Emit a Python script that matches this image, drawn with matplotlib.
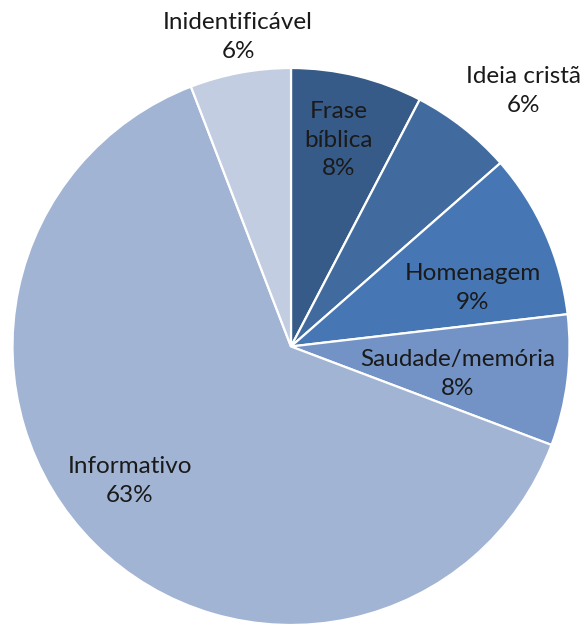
import matplotlib.pyplot as plt

# data (clockwise from 12 o'clock)
categories = ["Frase\nbíblica", "Ideia cristã", "Homenagem", "Saudade/memória",
              "Informativo", "Inidentificável"]
shares = [7.65, 5.9, 9.6, 7.6, 63.4, 5.85]
pct_labels = ["8%", "6%", "9%", "8%", "63%", "6%"]

colors = ["#375B88", "#416B9F", "#4677B4", "#7393C6", "#A2B4D4", "#C3CDE2"]

# pie geometry in pixels (center and radius)
W, H = 587, 626
CX, CY, R = 291, 346.5, 278.5

# label centers in pixels
label_pos = [(339, 140), (524, 91), (473, 288), (458, 374), (130, 481), (238, 37)]

plt.rcParams['font.family'] = ['Lato', 'DejaVu Sans']

fig = plt.figure(figsize=(W / 100, H / 100), dpi=100)
ax = fig.add_axes([0, 0, 1, 1])
ax.pie(shares, colors=colors, startangle=90, counterclock=False,
       radius=1, center=(0, 0),
       wedgeprops=dict(edgecolor="white", linewidth=1.6))

ax.set_xlim(-CX / R, (W - CX) / R)
ax.set_ylim(-(H - CY) / R, CY / R)
ax.set_aspect("equal")
ax.axis("off")

for name, pct, (px, py) in zip(categories, pct_labels, label_pos):
    ax.text((px - CX) / R, (CY - py) / R, name + "\n" + pct,
            ha="center", va="center", fontsize=17.5, color="#1a1a1a",
            linespacing=1.45)

fig.savefig("out.png", dpi=100)
